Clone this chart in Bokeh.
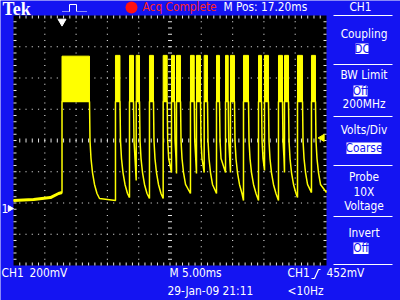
import math
from bokeh.plotting import figure
from bokeh.models import Range1d, Label
from bokeh.embed import file_html
from bokeh.resources import INLINE

# ---------------- data ----------------
MS_PER_DIV = 5.0          # M 5.00ms
V_PER_DIV = 0.2           # CH1 200mV
N_HDIV, N_VDIV = 10, 8
GROUND_DIV_BELOW_CENTER = 2.176   # ground marker position (divisions below centre)

baseline_t_ms = [0.0, 3.2, 5.9, 7.2, 7.75]
baseline_v = [0.051, 0.058, 0.070, 0.096, 0.102]

rise_ms = [7.75, 16.29, 18.53, 19.60, 21.72, 23.91, 25.24, 26.04, 28.27, 29.23, 30.46,
           32.43, 33.87, 34.66, 36.74, 39.14, 40.10, 42.33, 43.29, 45.37, 47.60]
fall_ms = [12.14, 17.01, 19.17, 20.13, 22.36, 24.55, 25.72, 26.68, 28.87, 29.87, 30.99,
           32.91, 34.30, 35.30, 37.54, 39.62, 40.73, 42.97, 43.93, 46.17, 48.24]
low_after_v = [0.051, 0.070, 0.179, 0.064, 0.064, 0.230, 0.224, 0.096, 0.224, 0.230, 0.096,
               0.230, 0.230, 0.051, 0.051, 0.243, 0.051, 0.230, 0.070, 0.102, 0.102]
burst_top_v = [0.975] + [0.98] * 20
burst_bottom_v = [0.685] * 21

decay_dt_ms = [0.0, 0.08, 0.24, 0.48, 0.80, 1.20, 1.60, 2.08]
decay_v = [0.685, 0.435, 0.320, 0.230, 0.154, 0.096, 0.064, 0.051]

trigger_ms = 7.75
trigger_level_v = 0.452
ground_v = 0.0

# ---------------- layout (pixels) ----------------
W, H = 400, 300
L, R, T, B = 13.0, 326.0, 15.0, 265.0
BLUE = "#1414f2"
YEL = "#ffff00"
FONT = "DejaVu Sans Condensed, Roboto, sans-serif"
FS = "11.8px"

screen_ms = N_HDIV * MS_PER_DIV
px_per_ms = (R - L) / screen_ms
px_per_v = (B - T) / (N_VDIV * V_PER_DIV)
v_center = GROUND_DIV_BELOW_CENTER * V_PER_DIV
cy = (T + B) / 2
ms_range = Range1d(-L / px_per_ms, (W - L) / px_per_ms)
v_range = Range1d(v_center - (H - cy) / px_per_v, v_center + cy / px_per_v)

p = figure(width=W, height=H, x_range=Range1d(0, W), y_range=Range1d(H, 0),
           x_axis_type=None, y_axis_type=None, toolbar_location=None,
           output_backend="svg", min_border=0, outline_line_color=None,
           background_fill_color=BLUE, border_fill_color=BLUE)
p.extra_x_ranges = {"ms": ms_range}
p.extra_y_ranges = {"V": v_range}

# screen
p.quad(left=[L], right=[R], top=[T], bottom=[B], fill_color="black", line_color=None)

# graticule
DX = (R - L) / N_HDIV
DY = (B - T) / N_VDIV
cx = L + 5 * DX
dot_x, dot_y = [], []
for i in range(1, N_HDIV):
    if i == 5:
        continue
    for j in range(1, N_VDIV * 5):
        dot_x.append(L + i * DX); dot_y.append(T + j * DY / 5)
for k in range(1, N_VDIV):
    if k == 4:
        continue
    for m in range(1, N_HDIV * 5):
        dot_x.append(L + m * DX / 5); dot_y.append(T + k * DY)
p.rect(dot_x, dot_y, width=1.2, height=1.2, fill_color="#cfcfcf", line_color=None)

sx0, sy0, sx1, sy1 = [], [], [], []
for j in range(1, N_VDIV * 5):
    y = T + j * DY / 5
    for a, b in ((cx - 2, cx + 2), (L, L + 3), (R - 3, R)):
        sx0.append(a); sx1.append(b); sy0.append(y); sy1.append(y)
for m in range(1, N_HDIV * 5):
    x = L + m * DX / 5
    for a, b in ((cy - 2, cy + 2), (T, T + 3), (B - 3, B)):
        sx0.append(x); sx1.append(x); sy0.append(a); sy1.append(b)
p.segment(sx0, sy0, sx1, sy1, line_color="#e6e6e6", line_width=1)

# trace
trace_t = list(baseline_t_ms)
trace_v = list(baseline_v)
n = len(rise_ms)
for i in range(n):
    r, f = rise_ms[i], fall_ms[i]
    nxt = rise_ms[i + 1] if i + 1 < n else screen_ms
    low = low_after_v[i]
    trace_t.append(r); trace_v.append(burst_bottom_v[i])
    for dt, v in zip(decay_dt_ms, decay_v):
        if f + dt < nxt and v > low:
            trace_t.append(f + dt); trace_v.append(v)
    trace_t.append(nxt); trace_v.append(low)

p.line(baseline_t_ms, baseline_v, x_range_name="ms", y_range_name="V",
       line_color=YEL, line_width=3)
p.line(trace_t, trace_v, x_range_name="ms", y_range_name="V",
       line_color=YEL, line_width=1.5)
p.quad(left=rise_ms, right=fall_ms, bottom=burst_bottom_v, top=burst_top_v,
       x_range_name="ms", y_range_name="V", fill_color=YEL, line_color=YEL, line_width=1)

# trigger level marker (right edge) and trigger position marker (top)
p.scatter([screen_ms - 0.7], [trigger_level_v], x_range_name="ms", y_range_name="V",
          marker="triangle", angle=math.pi / 2, size=7, fill_color=YEL, line_color=YEL)
p.scatter([trigger_ms], [21], x_range_name="ms", marker="inverted_triangle",
          size=8, fill_color="white", line_color="white")

# ground marker
p.scatter([9.5], [ground_v], y_range_name="V", marker="triangle", angle=-math.pi / 2,
          size=6, fill_color="white", line_color="white")
p.add_layout(Label(x=1, y=ground_v, y_range_name="V", text="1", text_font=FONT,
                   text_font_size="12px", text_color="white", text_baseline="middle"))

# record view icon
p.line([62, 69], [11, 11], line_color="white", line_width=1, line_dash="1 1")
p.line([69, 69, 76, 76], [11, 4, 4, 11], line_color="white", line_width=1)
p.line([77, 86], [11, 11], line_color="white", line_width=1, line_dash="1 1")

# red acquisition dot
p.scatter([131], [7], marker="circle", size=12, fill_color="#ff1010", line_color=None)

def txt(x, y, s, color="white", size=FS, align="left", font=FONT, style="normal"):
    p.add_layout(Label(x=x, y=y, text=s, text_font=font, text_font_size=size,
                       text_color=color, text_align=align, text_baseline="middle",
                       text_font_style=style))

txt(2, 8.5, "Tek", font="Liberation Serif", size="18px", style="bold")
txt(142, 6.5, "Acq Complete", color="#ff2424")
txt(223, 6.5, "M Pos: 17.20ms")
txt(360, 6.5, "CH1", align="center")

# right-hand menu
PX = 363.5
sep_y = [15, 64, 116, 165, 216, 264]
p.segment([333] * len(sep_y), sep_y, [392] * len(sep_y), sep_y, line_color="white", line_width=1)

boxes = [(355, 368, 43, 53.5, "DC"), (353, 367, 85, 96, "Off"),
         (346, 381, 142, 153.5, "Coarse"), (353, 368, 242, 253.5, "Off")]
p.quad(left=[b[0] for b in boxes], right=[b[1] for b in boxes],
       top=[b[2] for b in boxes], bottom=[b[3] for b in boxes],
       fill_color="white", line_color=None)
for b in boxes:
    txt((b[0] + b[1]) / 2, (b[2] + b[3]) / 2, b[4], color=BLUE, align="center")

for y, s in [(33, "Coupling"), (74.5, "BW Limit"), (103, "200MHz"), (129, "Volts/Div"),
             (176, "Probe"), (191, "10X"), (205, "Voltage"), (232.5, "Invert")]:
    txt(PX, y, s, align="center")

# bottom status
txt(1, 272.5, "CH1")
txt(29, 272.5, "200mV")
txt(169, 272.5, "M 5.00ms")
txt(287, 272.5, "CH1")
p.line([311, 314, 318, 320], [278, 278, 269, 269], line_color="white", line_width=1.2)
txt(326, 272.5, "452mV")
txt(167, 290.5, "29-Jan-09 21:11")
txt(287, 290.5, "<10Hz")

open("out.html", "w").write(file_html(p, INLINE))
